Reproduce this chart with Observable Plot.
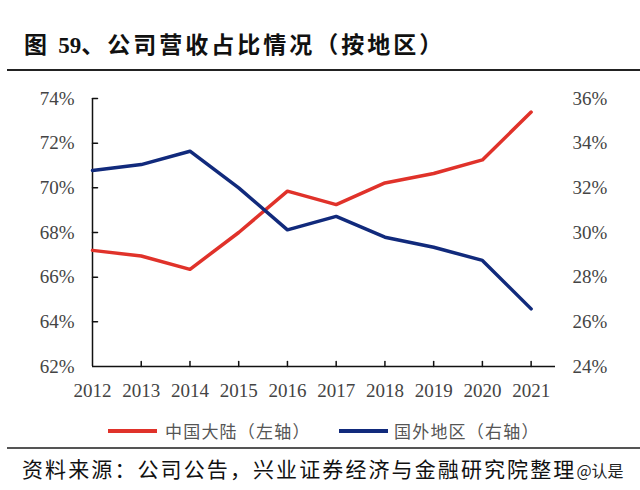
<!DOCTYPE html>
<html>
<head>
<meta charset="utf-8">
<script src="https://cdn.jsdelivr.net/npm/d3@7"></script>
<script src="https://cdn.jsdelivr.net/npm/@observablehq/plot@0.6"></script>
<style>
  html, body { margin: 0; padding: 0; background: #fff; }
  #page { position: relative; width: 640px; height: 490px; overflow: hidden; background: #fff; }
  .abs { position: absolute; white-space: nowrap; }
  #title { left: 24px; top: 28px; font: bold 23px "Noto Sans CJK SC", sans-serif; letter-spacing: 3px; color: #111; line-height: 30px; }
  #title .num { font-family: "Liberation Serif", serif; letter-spacing: 0; }
  .rule { position: absolute; background: #333; }
  .legline { position: absolute; height: 4px; }
  .legtext { position: absolute; font: 17px "Noto Sans CJK SC", sans-serif; color: #555; letter-spacing: 1.2px; line-height: 22px; }
  #caption { left: 22px; top: 454px; font: 21px "Noto Sans CJK SC", sans-serif; color: #111; letter-spacing: 2.1px; line-height: 28px; }
  #caption .wm { font-size: 16px; letter-spacing: 0; color: #222; }
  #chart { position: absolute; left: 0; top: 80px; }
</style>
</head>
<body>
<div id="page">
  <div id="title" class="abs">图 <span class="num">59</span>、公司营收占比情况（按地区）</div>
  <div class="rule" style="left:7px; top:69px; width:633px; height:2px; background:#222;"></div>
  <div id="chart"></div>
  <div id="legend"></div>
  <div class="rule" style="left:7px; top:447px; width:633px; height:1.5px; background:#555;"></div>
  <div id="caption" class="abs">资料来源：公司公告，兴业证券经济与金融研究院整理<span class="wm">@认是</span></div>
</div>
<script>
// ---- data ----
const years = [2012, 2013, 2014, 2015, 2016, 2017, 2018, 2019, 2020, 2021];
const mainland = [67.2, 66.95, 66.35, 68.0, 69.85, 69.25, 70.22, 70.64, 71.25, 73.39]; // 左轴 %
const overseas = [32.78, 33.04, 33.64, 32.0, 30.12, 30.72, 29.79, 29.34, 28.75, 26.58]; // 右轴 %
const leftTicks = [62, 64, 66, 68, 70, 72, 74];
const rightTicks = [24, 26, 28, 30, 32, 34, 36];
const seriesNames = ["中国大陆（左轴）", "国外地区（右轴）"];
const seriesColors = ["#e0322a", "#112a7c"];

// map right-axis values onto the left-axis scale
const lMin = leftTicks[0], lMax = leftTicks[leftTicks.length - 1];
const rMin = rightTicks[0], rMax = rightTicks[rightTicks.length - 1];
const toLeft = v => lMin + (v - rMin) * (lMax - lMin) / (rMax - rMin);
const toRight = v => rMin + (v - lMin) * (rMax - rMin) / (lMax - lMin);

const redData = years.map((y, i) => ({year: y, value: mainland[i]}));
const blueData = years.map((y, i) => ({year: y, value: toLeft(overseas[i])}));

const tickShapeV = { draw(ctx, l) { ctx.moveTo(0, 0); ctx.lineTo(0, -l); } };
const axisColor = "#111";

const chart = Plot.plot({
  width: 640,
  height: 320,
  marginTop: 18,
  marginBottom: 34,
  marginLeft: 92,
  marginRight: 85,
  x: { domain: [years[0], years[years.length - 1] + 0.5], label: null },
  y: { domain: [lMin, lMax], label: null },
  style: { fontFamily: "'Liberation Serif', serif", fontSize: "19px", color: "#444", background: "transparent" },
  marks: [
    Plot.axisY(leftTicks, { anchor: "left", label: null, tickSize: 0, tickPadding: 18, tickFormat: d => d + "%" }),
    Plot.axisY(leftTicks, { anchor: "right", label: null, tickSize: 0, tickPadding: 17, tickFormat: d => Math.round(toRight(d)) + "%" }),
    Plot.axisX(years, { anchor: "bottom", label: null, tickSize: 0, tickPadding: 17, tickFormat: d => String(d) }),
    // inward tick marks
    Plot.vector(leftTicks.slice(1), { x: years[0], y: d => d, length: 5, rotate: 90, anchor: "start", shape: tickShapeV, stroke: axisColor, strokeWidth: 1.5 }),
    Plot.vector(years.slice(1), { x: d => d, y: lMin, length: 5, rotate: 0, anchor: "start", shape: tickShapeV, stroke: axisColor, strokeWidth: 1.5 }),
    Plot.ruleX([years[0]], { stroke: axisColor, strokeWidth: 1.5 }),
    Plot.ruleY([lMin], { stroke: axisColor, strokeWidth: 1.5 }),
    Plot.line(redData, { x: "year", y: "value", stroke: seriesColors[0], strokeWidth: 3.5 }),
    Plot.line(blueData, { x: "year", y: "value", stroke: seriesColors[1], strokeWidth: 3.5 })
  ]
});
document.getElementById("chart").appendChild(chart);

// legend
const legend = document.getElementById("legend");
const legPos = [{line: 108, text: 165}, {line: 339, text: 394}];
seriesNames.forEach((name, i) => {
  const ln = document.createElement("div");
  ln.className = "legline";
  ln.style.left = legPos[i].line + "px";
  ln.style.top = "429px";
  ln.style.width = "49px";
  ln.style.background = seriesColors[i];
  legend.appendChild(ln);
  const tx = document.createElement("div");
  tx.className = "legtext";
  tx.style.left = legPos[i].text + "px";
  tx.style.top = "420px";
  tx.textContent = name;
  legend.appendChild(tx);
});
</script>
</body>
</html>
